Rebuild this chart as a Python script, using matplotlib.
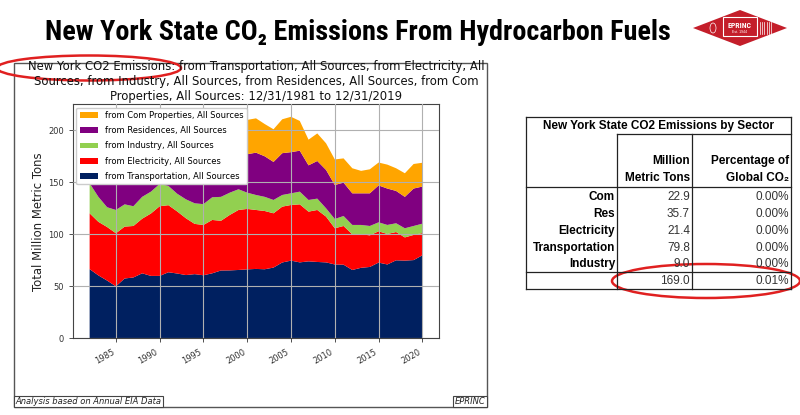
import matplotlib
matplotlib.use("Agg")
import matplotlib.pyplot as plt
import matplotlib.dates as mdates
from matplotlib import font_manager as fm
from matplotlib.patches import Rectangle, Ellipse, Polygon
from matplotlib.lines import Line2D
import pandas as pd

# ---------------- data ----------------
dates = pd.date_range("1981-12-31", "2019-12-31", freq="YE")

transportation = [66.5, 60.5, 55.5, 50.0, 57.5, 58.5, 62.5, 60.0, 60.0, 63.5,
                  62.3, 60.8, 61.7, 60.6, 62.5, 65.2, 65.3, 65.7, 66.3, 66.7,
                  66.4, 68.0, 72.9, 74.7, 73.0, 74.0, 73.4, 73.0, 71.0, 70.8,
                  65.7, 67.8, 68.6, 72.8, 71.0, 75.0, 74.7, 75.2, 79.8]
electricity = [53.7, 51.5, 51.5, 51.0, 49.9, 49.5, 52.5, 60.0, 67.0, 64.5,
               59.7, 54.6, 48.3, 48.4, 51.3, 47.8, 53.3, 57.7, 58.1, 56.7,
               56.0, 52.2, 53.7, 53.5, 55.8, 47.8, 50.0, 44.0, 34.8, 37.2,
               34.3, 32.2, 30.4, 30.1, 29.3, 27.2, 22.3, 24.2, 21.4]
industry = [28.8, 24.0, 19.0, 22.4, 21.4, 19.0, 21.0, 21.0, 21.4, 18.5,
            17.0, 18.2, 19.8, 20.0, 21.8, 23.0, 21.4, 19.9, 15.6, 14.4,
            13.6, 12.8, 11.2, 11.2, 12.2, 11.2, 10.9, 8.0, 8.9, 9.6,
            9.0, 9.0, 9.0, 8.6, 8.7, 8.4, 8.8, 8.6, 9.0]
residences = [40.0, 38.0, 40.0, 39.0, 40.0, 41.0, 40.0, 41.0, 37.0, 36.0,
              39.0, 40.0, 41.0, 39.0, 41.0, 38.0, 34.0, 36.0, 37.0, 40.7,
              39.0, 36.6, 40.2, 39.6, 39.4, 33.3, 36.2, 36.9, 32.7, 32.1,
              30.4, 30.4, 31.4, 35.5, 35.0, 31.1, 30.2, 36.0, 35.7]
com_properties = [29.0, 27.0, 28.0, 29.0, 30.0, 31.0, 32.0, 31.0, 28.0, 28.0,
                  30.0, 31.0, 32.0, 30.0, 32.0, 32.0, 29.0, 31.0, 33.0, 33.0,
                  31.0, 31.4, 32.6, 34.0, 28.6, 24.7, 26.5, 25.6, 24.6, 23.3,
                  24.1, 21.6, 23.1, 22.0, 23.0, 21.8, 22.7, 23.6, 22.9]

series_labels = ["from Transportation, All Sources",
                 "from Electricity, All Sources",
                 "from Industry, All Sources",
                 "from Residences, All Sources",
                 "from Com Properties, All Sources"]
series_colors = ["#002060", "#ff0000", "#92d050", "#800080", "#ffa500"]

table_sectors = ["Com", "Res", "Electricity", "Transportation", "Industry"]
table_mmt = [22.9, 35.7, 21.4, 79.8, 9.0]
table_pct = ["0.00%", "0.00%", "0.00%", "0.00%", "0.00%"]
table_total = 169.0
table_total_pct = "0.01%"

W, H = 800, 415


def P(x, y):
    return (x / W, 1 - y / H)


# pick a condensed bold face for the slide title if one is installed
names = {f.name for f in fm.fontManager.ttflist}
title_kw = dict(family=["Liberation Sans", "DejaVu Sans"])
if "Liberation Sans Narrow" in names:
    title_kw = dict(family=["Liberation Sans Narrow", "DejaVu Sans"])
elif "Roboto Condensed" in names:
    title_kw = dict(family=["Roboto Condensed", "DejaVu Sans"])
elif any(f.name == "DejaVu Sans" and f.stretch == "condensed" for f in fm.fontManager.ttflist):
    title_kw = dict(family=["DejaVu Sans"], stretch="condensed")

fig = plt.figure(figsize=(8, 4.15), dpi=100)

# ---------------- slide title ----------------
ttl = fig.text(*P(358, 40), "New York State CO\u2082 Emissions From Hydrocarbon Fuels",
               ha="center", va="baseline", fontsize=19, fontweight="bold", **title_kw)
fig.canvas.draw()
wpx = ttl.get_window_extent().width
ttl.set_fontsize(19 * 626 / wpx)

# logo
cx, cy = 740, 28
fig.add_artist(Polygon([P(cx - 47, cy), P(cx, cy - 18), P(cx + 47, cy), P(cx, cy + 18)],
                       closed=True, transform=fig.transFigure, fc="#c41e2a", ec="none"))
fig.add_artist(Rectangle(P(723, 36), 34 / W, 19 / H, transform=fig.transFigure,
                         fc="#c41e2a", ec="white", lw=0.8))
fig.text(*P(740, 25), "EPRINC", ha="center", va="center", color="white",
         fontsize=5.6, fontweight="bold", **title_kw)
fig.text(*P(740, 32), "Est. 1944", ha="center", va="center", color="white",
         fontsize=2.5, family=["Liberation Sans", "DejaVu Sans"])
for i in range(6):
    fig.add_artist(Line2D([(760 + i * 2.2) / W] * 2, [1 - 22 / H, 1 - 34 / H],
                          transform=fig.transFigure, color="white", lw=0.5))
fig.add_artist(Ellipse(P(713, 28), 6 / W, 10 / H, transform=fig.transFigure,
                       fc="none", ec="white", lw=0.5))

# ---------------- chart frame ----------------
fig.add_artist(Rectangle(P(14, 407), (487 - 14) / W, (407 - 63) / H,
                         transform=fig.transFigure, fc="none", ec="#555555", lw=1))

ax = fig.add_axes([73 / W, 1 - 338.3 / H, (439 - 73) / W, (338.3 - 104.3) / H])
ax.stackplot(dates, transportation, electricity, industry, residences, com_properties,
             colors=series_colors, labels=series_labels)
ax.set_ylim(0, 225)
ax.xaxis.set_major_locator(mdates.YearLocator(5))
ax.xaxis.set_major_formatter(mdates.DateFormatter("%Y"))
ax.set_yticks([0, 50, 100, 150, 200])
ax.grid(True, color="#b0b0b0", lw=0.8)
ax.set_axisbelow(False)
ax.tick_params(labelsize=6.0, colors="#333333", length=3, width=0.6)
for lab in ax.get_xticklabels():
    lab.set_rotation(30)
    lab.set_ha("right")
for s in ax.spines.values():
    s.set_color("#444444")
    s.set_linewidth(0.8)
ax.set_ylabel("Total Million Metric Tons", fontsize=8.4, color="#222222", labelpad=2)

h, l = ax.get_legend_handles_labels()
ax.legend(h[::-1], l[::-1], loc="upper left", fontsize=6.0, framealpha=1,
          borderaxespad=0.4, handlelength=2.2, labelspacing=0.75)

fig.text(*P(256, 81.5),
         "New York CO2 Emissions: from Transportation, All Sources, from Electricity, All\n"
         "Sources, from Industry, All Sources, from Residences, All Sources, from Com\n"
         "Properties, All Sources: 12/31/1981 to 12/31/2019",
         ha="center", va="center", fontsize=8.4, linespacing=1.22, color="#111111")

# footer boxes
fig.add_artist(Rectangle(P(14, 407), (163 - 14) / W, 11 / H, transform=fig.transFigure,
                         fc="white", ec="#444444", lw=0.8))
fig.text(*P(15.5, 401.5), "Analysis based on Annual EIA Data", ha="left", va="center",
         fontsize=6.0, style="italic", color="#222222")
fig.add_artist(Rectangle(P(453, 407), (487 - 453) / W, 11 / H, transform=fig.transFigure,
                         fc="white", ec="#444444", lw=0.8))
fig.text(*P(470, 401.5), "EPRINC", ha="center", va="center",
         fontsize=6.0, style="italic", color="#222222")

# red ellipse on chart title
fig.add_artist(Ellipse(P(89, 68), 184 / W, 25 / H, transform=fig.transFigure,
                       fc="none", ec="#e02020", lw=1.8))

# ---------------- table ----------------
tf = ["Liberation Sans", "DejaVu Sans"]
L, R, T, B = 526, 791, 117, 289
c1, c2 = 617, 692
lines = [((L, T), (R, T)), ((L, B), (R, B)), ((L, T), (L, B)), ((R, T), (R, B)),
         ((c1, 134), (R, 134)), ((L, 187), (R, 187)), ((L, 272), (R, 272)),
         ((c1, 134), (c1, B)), ((c2, 134), (c2, B))]
for (x0, y0), (x1, y1) in lines:
    fig.add_artist(Line2D([x0 / W, x1 / W], [1 - y0 / H, 1 - y1 / H],
                          transform=fig.transFigure, color="#222222", lw=0.9))

fig.text(*P((L + R) / 2, 126), "New York State CO2 Emissions by Sector", ha="center",
         va="center", fontsize=8.5, fontweight="bold", family=tf)
fig.text(*P(690, 161), "Million", ha="right", va="center", fontsize=8.5,
         fontweight="bold", family=tf)
fig.text(*P(690, 178), "Metric Tons", ha="right", va="center", fontsize=8.5,
         fontweight="bold", family=tf)
fig.text(*P(789, 161), "Percentage of", ha="right", va="center", fontsize=8.5,
         fontweight="bold", family=tf)
fig.text(*P(789, 178), "Global CO\u2082", ha="right", va="center", fontsize=8.5,
         fontweight="bold", family=tf)

row_y = [197, 214, 231, 247.5, 264]
for yy, name, val, pc in zip(row_y, table_sectors, table_mmt, table_pct):
    fig.text(*P(615, yy), name, ha="right", va="center", fontsize=8.5,
             fontweight="bold", family=tf)
    fig.text(*P(690, yy), f"{val:.1f}", ha="right", va="center", fontsize=8.5,
             family=tf, color="#333333")
    fig.text(*P(789, yy), pc, ha="right", va="center", fontsize=8.5,
             family=tf, color="#333333")
fig.text(*P(690, 281), f"{table_total:.1f}", ha="right", va="center", fontsize=8.5,
         family=tf, color="#333333")
fig.text(*P(789, 281), table_total_pct, ha="right", va="center", fontsize=8.5,
         family=tf, color="#333333")

fig.add_artist(Ellipse(P(706, 281), 188 / W, 34 / H, transform=fig.transFigure,
                       fc="none", ec="#e02020", lw=1.8))

fig.savefig("out.png", dpi=100)
